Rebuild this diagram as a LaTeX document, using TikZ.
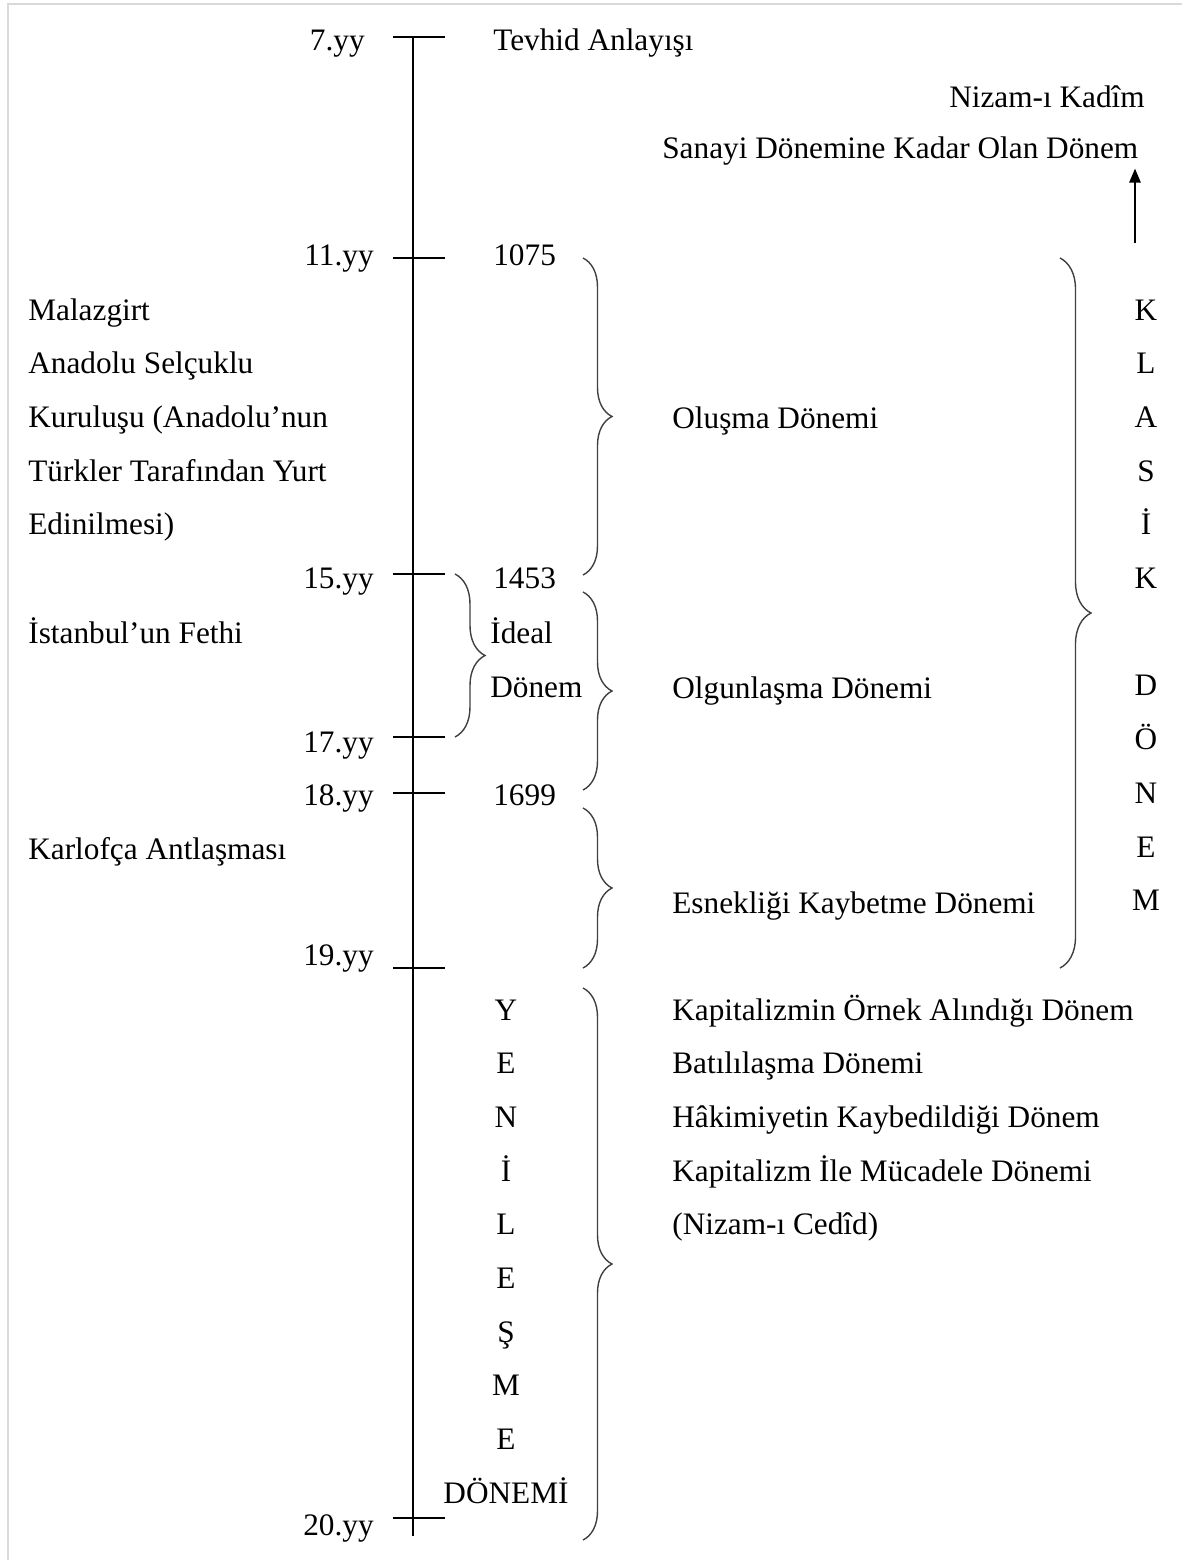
\documentclass[tikz,border=0pt]{standalone}
\usepackage{fontspec}
\setmainfont{Liberation Serif}
\usetikzlibrary{arrows.meta, decorations.pathreplacing, positioning}

\begin{document}
\begin{tikzpicture}[
  x=0.02cm, y=-0.02cm,
  every node/.style={font=\fontsize{17.8}{21}\selectfont, inner sep=0pt},
  yuzyil/.style={anchor=base east},
  metin/.style={anchor=base west},
  harf/.style={anchor=base},
  cizgi/.style={line width=1.1pt},
  ayrac/.style={decorate, decoration={brace, amplitude=#1}, line width=0.8pt, black!75},
  ayrac/.default=0.58cm,
  ok/.style={-{Triangle[length=8pt, width=6.5pt]}, line width=1pt},
]
\useasboundingbox (0,0) rectangle (1182,1560);

% Cerceve
\draw[gray!30, line width=1.2pt] (8,1560) -- (8,4) -- (1182,4);

% Zaman ekseni
\draw[cizgi] (413,37) -- (413,1536);
\foreach \y in {37,258,574,737,793,968,1518}
  \draw[cizgi] (393,\y) -- (445,\y);

% Yuzyillar
\node[yuzyil] (y7)  at (365,50)   {7.yy};
\node[yuzyil] (y11) at (374,265)  {11.yy};
\node[yuzyil] (y15) at (374,588)  {15.yy};
\node[yuzyil] (y17) at (374,752)  {17.yy};
\node[yuzyil] (y18) at (374,805)  {18.yy};
\node[yuzyil] (y19) at (374,965)  {19.yy};
\node[yuzyil] (y20) at (374,1535) {20.yy};

% Yillar
\node[metin] (tevhid) at (493,50)  {Tevhid Anlayışı};
\node[metin] (t1075)  at (493,265) {1075};
\node[metin] (t1453)  at (493,588) {1453};
\node[metin] (ideal)  at (490,643) {İdeal};
\node[metin] (idonem) at (490,697) {Dönem};
\node[metin] (t1699)  at (493,805) {1699};

% Sol olaylar
\foreach \t [count=\i from 0] in {Malazgirt, Anadolu Selçuklu, {Kuruluşu (Anadolu’nun},
    {Türkler Tarafından Yurt}, {Edinilmesi)}}
  \node[metin] (sol\i) at (28,320+53.7*\i) {\t};
\node[metin] (fetih)    at (28,643) {İstanbul’un Fethi};
\node[metin] (karlofca) at (28,859) {Karlofça Antlaşması};

% Ayraclar
\draw[ayrac] (583,258) -- (583,575);
\draw[ayrac] (583,592) -- (583,790);
\draw[ayrac] (583,808) -- (583,968);
\draw[ayrac] (583,988) -- (583,1540);
\draw[ayrac=0.6cm] (455,574) -- (455,737);
\draw[ayrac=0.62cm] (1060,258) -- (1060,968);

% Donemler
\node[metin] (olusma)  at (672,428) {Oluşma Dönemi};
\node[metin] (olgun)   at (672,698) {Olgunlaşma Dönemi};
\node[metin] (esnek)   at (672,913) {Esnekliği Kaybetme Dönemi};
\foreach \t [count=\i from 0] in {Kapitalizmin Örnek Alındığı Dönem, Batılılaşma Dönemi,
    Hâkimiyetin Kaybedildiği Dönem, Kapitalizm İle Mücadele Dönemi, {(Nizam-ı Cedîd)}}
  \node[metin] (yeni\i) at (672,1020+53.7*\i) {\t};

% Ust sag
\node[anchor=base east] (kadim) at (1145,107) {Nizam-ı Kadîm};
\node[metin] (sanayi) at (662,158) {Sanayi Dönemine Kadar Olan Dönem};
\coordinate (okbas) at (1135,243);
\draw[ok] (okbas) -- ([yshift=-2pt]okbas |- sanayi.south);

% Dikey yazilar
\foreach \h/\i in {K/0,L/1,A/2,S/3,İ/4,K/5,D/7,Ö/8,N/9,E/10,M/11}
  \node[harf] (kl\i) at (1146,320+53.7*\i) {\h};
\foreach \h/\i in {Y/0,E/1,N/2,İ/3,L/4,E/5,Ş/6,M/7,E/8,DÖNEMİ/9}
  \node[harf] (ye\i) at (506,1020+53.7*\i) {\h};

\end{tikzpicture}
\end{document}
